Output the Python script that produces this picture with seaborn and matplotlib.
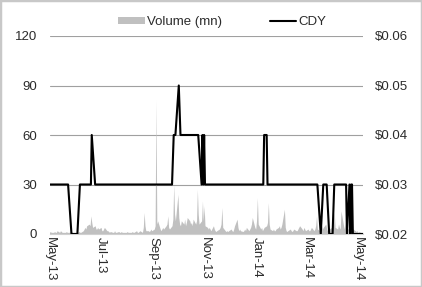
import pandas as pd
import numpy as np
import matplotlib
matplotlib.use('Agg')
import matplotlib.pyplot as plt
import matplotlib.dates as mdates
from matplotlib.patches import Rectangle, Patch
from matplotlib.lines import Line2D
from matplotlib.ticker import FuncFormatter
import seaborn as sns

# daily volume (mn), business days from 1 May 2013
volume = [1, 1.5, 1, 1, 1.5, 1, 1, 2, 1, 2,
          1.5, 1, 1, 1, 1.5, 1, 1, 1, 1.5, 1,
          1, 1, 1, 1, 1, 1.5, 1, 1, 2, 3,
          4, 3, 5, 6, 5, 11, 7, 4, 5, 3,
          3, 4, 3, 4, 2, 2, 3, 4, 2, 2,
          1.5, 1, 1.5, 1, 1, 2, 1, 1, 1.5, 1,
          1, 1.5, 1, 1, 1, 1, 1.5, 1, 1, 1,
          1.5, 1, 1, 2, 1, 1, 1.5, 2, 1, 4,
          13, 5, 2, 2, 1.5, 2, 3, 2, 3, 5,
          81, 6, 8, 3, 2, 3, 4, 3, 5, 6,
          11, 4, 3, 5, 9, 30, 12, 8, 24, 10,
          6, 5, 8, 6, 9, 5, 7, 10, 8, 6,
          7, 5, 9, 6, 8, 27, 12, 6, 8, 20,
          8, 17, 5, 4, 3, 4, 3, 2, 5, 3,
          2, 1.5, 2, 3, 4, 6, 16, 4, 2, 1.5,
          2, 1.5, 2, 3, 2, 1.5, 3, 5, 9, 4,
          2, 3, 2, 1.5, 2, 3, 2, 4, 2, 3,
          4, 6, 10, 4, 3, 8, 22, 6, 3, 4,
          2, 3, 4, 5, 7, 19, 6, 3, 2, 3,
          2, 2, 3, 4, 5, 3, 4, 6, 15, 4,
          2, 1.5, 2, 3, 2, 1.5, 2, 3, 2, 2,
          3, 4, 5, 3, 2, 4, 3, 2, 3, 2,
          2, 3, 4, 2, 3, 5, 11, 3, 2, 4,
          5, 3, 4, 6, 3, 2, 5, 3, 4, 7,
          5, 13, 4, 3, 6, 4, 3, 14, 5, 3,
          6, 10, 4, 2, 3, 2, 4, 3, 2, 1.5,
          2, 1, 1.5, 1, 1, 1]
vol_dates = pd.bdate_range('2013-05-01', periods=len(volume))

# CDY line vertices
cdy_dates = pd.to_datetime([
    '2013-05-01', '2013-05-23', '2013-05-27', '2013-06-03', '2013-06-06',
    '2013-06-19', '2013-06-20', '2013-06-24', '2013-09-23', '2013-09-25',
    '2013-09-27', '2013-10-01', '2013-10-03', '2013-10-24', '2013-10-28',
    '2013-10-29', '2013-10-30', '2013-10-31', '2013-11-01', '2014-01-09',
    '2014-01-10', '2014-01-13', '2014-01-14', '2014-03-14', '2014-03-18',
    '2014-03-21', '2014-03-25', '2014-03-28', '2014-04-01', '2014-04-03',
    '2014-04-17', '2014-04-18', '2014-04-21', '2014-04-22', '2014-04-23',
    '2014-04-24', '2014-04-25', '2014-05-07'])
cdy_values = [0.03, 0.03, 0.02, 0.02, 0.03,
              0.03, 0.04, 0.03, 0.03, 0.04,
              0.04, 0.05, 0.04, 0.04, 0.03,
              0.04, 0.03, 0.04, 0.03, 0.03,
              0.04, 0.04, 0.03, 0.03, 0.02,
              0.03, 0.03, 0.02, 0.02, 0.03,
              0.03, 0.02, 0.03, 0.02, 0.03,
              0.03, 0.02, 0.02]

left_ticks = [0, 30, 60, 90, 120]
right_ticks = [0.02, 0.03, 0.04, 0.05, 0.06]
month_ticks = pd.to_datetime(['2013-05-01', '2013-07-01', '2013-09-01', '2013-11-01',
                              '2014-01-01', '2014-03-01', '2014-05-01'])

sns.set_theme(style='white')
plt.rcParams['font.family'] = ['Liberation Sans', 'DejaVu Sans']
txt = '#2b2b2b'
fs = 9.5

fig = plt.figure(figsize=(4.22, 2.87), dpi=100)
ax = fig.add_axes([49.5 / 422, 1 - 234 / 287, 313.5 / 422, 198 / 287])

ax.fill_between(vol_dates, volume, color='#c0c0c0', lw=0, zorder=2)
ax.set_ylim(0, 120)
ax.set_yticks(left_ticks)
ax.set_xlim(pd.Timestamp('2013-05-01'), pd.Timestamp('2014-05-07'))
ax.yaxis.grid(True, color='#a0a0a0', lw=0.8, zorder=0)
ax.set_axisbelow(True)
for s in ['top', 'left', 'right']:
    ax.spines[s].set_visible(False)
ax.spines['bottom'].set_color('#d0d0d0')
ax.spines['bottom'].set_linewidth(0.8)
ax.set_xticks(month_ticks)
ax.xaxis.set_major_formatter(mdates.DateFormatter('%b-%y'))
ax.tick_params(axis='x', length=0, pad=2, labelsize=fs, colors=txt, labelrotation=-90)
ax.tick_params(axis='y', length=0, pad=9, labelsize=fs, colors=txt)

ax2 = ax.twinx()
sns.lineplot(x=cdy_dates, y=cdy_values, ax=ax2, color='black', lw=1.5, sort=False)
ax2.set_ylim(0.02, 0.06)
ax2.set_yticks(right_ticks)
ax2.yaxis.set_major_formatter(FuncFormatter(lambda v, p: '${:.2f}'.format(v)))
ax2.tick_params(axis='y', length=0, pad=8.5, labelsize=fs, colors=txt)
ax2.set_xlim(ax.get_xlim())
for s in ax2.spines.values():
    s.set_visible(False)
ax2.grid(False)
ax2.set_ylabel('')

handles = [Patch(facecolor='#c0c0c0', edgecolor='none', label='Volume (mn)'),
           Line2D([], [], color='black', lw=1.5, label='CDY')]
fig.legend(handles=handles, loc='center', bbox_to_anchor=(0.527, 0.923), ncol=2,
           frameon=False, fontsize=fs, handlelength=2.0, handleheight=0.5,
           handletextpad=0.2, columnspacing=3.6, labelcolor=txt)

fig.patches.append(Rectangle((0, 0), 1, 1, transform=fig.transFigure, fill=False,
                             edgecolor='#c8c8c8', lw=2.5))

fig.savefig('out.png', dpi=100)
